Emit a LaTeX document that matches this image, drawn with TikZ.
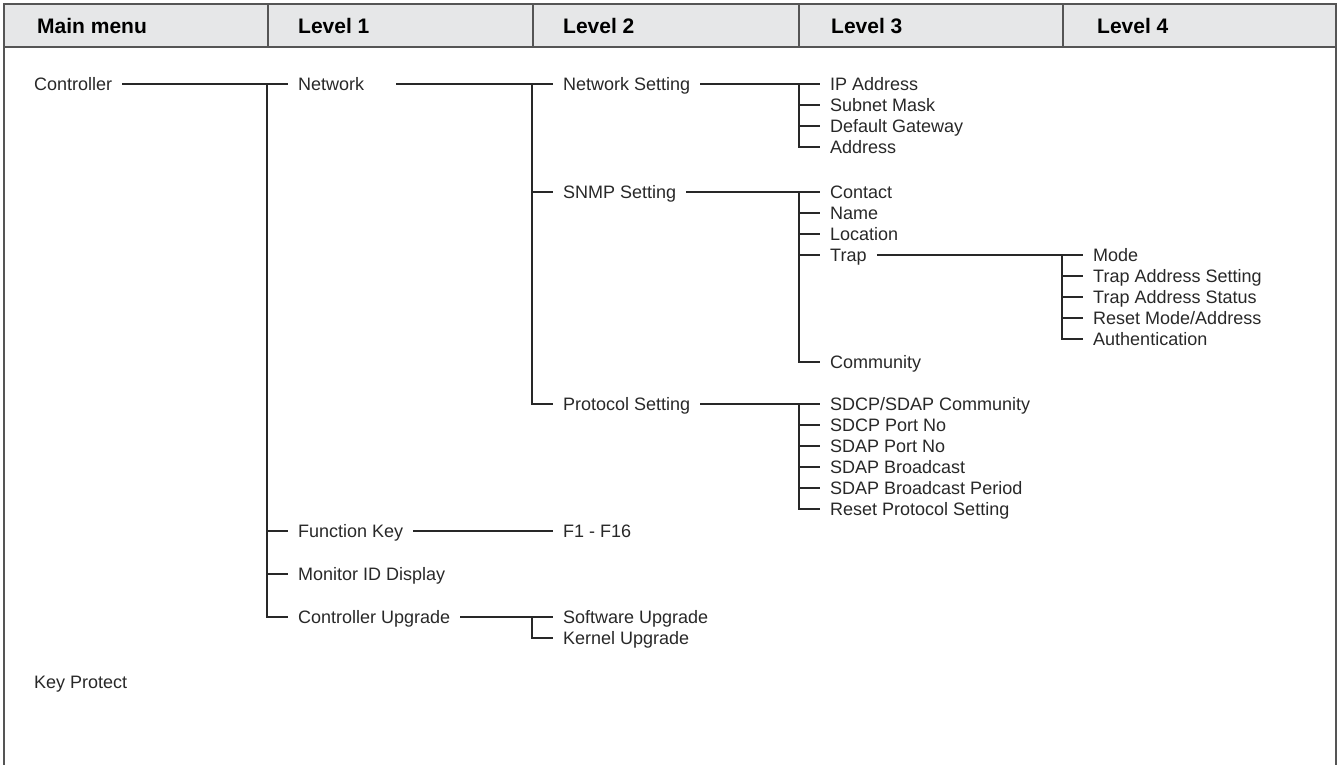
\documentclass[tikz,border=0pt]{standalone}
\usepackage{fontspec}
\setmainfont{Liberation Sans}
\definecolor{headgray}{RGB}{230,231,232}
\definecolor{framegray}{RGB}{85,85,85}
\definecolor{inkgray}{RGB}{40,40,40}

\begin{document}
\begin{tikzpicture}[x=1pt, y=-1pt,
    item/.style={anchor=west, inner xsep=10pt, inner ysep=0pt, text height=12.8pt, text depth=0pt,
      font=\fontsize{18}{21}\selectfont, text=inkgray},
    head/.style={anchor=west, inner xsep=10pt, font=\bfseries\fontsize{21}{24}\selectfont},
    link/.style={draw=inkgray, line width=1.2pt}]

    \useasboundingbox (0,0) rectangle (1339,765);

    % Header row
    \fill[headgray] (4,4) rectangle (1336,47);
    \foreach \x in {268,533,799,1063}
        \draw[framegray, line width=1.6pt] (\x,4) -- (\x,47);
    \draw[framegray, line width=1.8pt] (4,47) -- (1336,47);
    \draw[framegray, line width=2pt] (4,765) -- (4,4) -- (1336,4) -- (1336,765);
    \node[head] (h0) at (27,26) {Main menu};
    \node[head] (h1) at (288,26) {Level 1};
    \node[head] (h2) at (553,26) {Level 2};
    \node[head] (h3) at (821,26) {Level 3};
    \node[head] (h4) at (1087,26) {Level 4};

    % Main menu
    \node[item] (ctrl) at (24,84) {Controller};
    \node[item] (kp) at (24,682) {Key Protect};

    % Level 1
    \node[item] (net) at (288,84) {Network};
    \node[item] (fkey) at (288,531) {Function Key};
    \node[item] (mon) at (288,574) {Monitor ID Display};
    \node[item] (cup) at (288,617) {Controller Upgrade};

    % Level 2
    \node[item] (ns) at (553,84) {Network Setting};
    \node[item] (snmp) at (553,192) {SNMP Setting};
    \node[item] (proto) at (553,404) {Protocol Setting};
    \node[item] (fk) at (553,531) {F1 - F16};
    \node[item] (sw) at (553,617) {Software Upgrade};
    \node[item] (kern) at (553,638) {Kernel Upgrade};

    % Level 3
    \node[item] (ip) at (820,84) {IP Address};
    \node[item] (sub) at (820,105) {Subnet Mask};
    \node[item] (gw) at (820,126) {Default Gateway};
    \node[item] (addr) at (820,147) {Address};
    \node[item] (cont) at (820,192) {Contact};
    \node[item] (name) at (820,213) {Name};
    \node[item] (loc) at (820,234) {Location};
    \node[item] (trap) at (820,255) {Trap};
    \node[item] (comm) at (820,362) {Community};
    \node[item] (sdc) at (820,404) {SDCP/SDAP Community};
    \node[item] (sdcp) at (820,425) {SDCP Port No};
    \node[item] (sdap) at (820,446) {SDAP Port No};
    \node[item] (bc) at (820,467) {SDAP Broadcast};
    \node[item] (bcp) at (820,488) {SDAP Broadcast Period};
    \node[item] (rst) at (820,509) {Reset Protocol Setting};

    % Level 4
    \node[item] (mode) at (1083,255) {Mode};
    \node[item] (tas) at (1083,276) {Trap Address Setting};
    \node[item] (tst) at (1083,297) {Trap Address Status};
    \node[item] (rma) at (1083,318) {Reset Mode/Address};
    \node[item] (auth) at (1083,339) {Authentication};

    % Connectors
    \draw[link] (ctrl.east) -- (net.west);
    \draw[link] ([xshift=-21pt]net.west) |- (cup.west);
    \foreach \n in {fkey,mon}
        \draw[link] ([xshift=-21pt]\n.west) -- (\n.west);

    \draw[link] ([xshift=22pt]net.east) -- (ns.west);
    \draw[link] ([xshift=-21pt]ns.west) |- (proto.west);
    \draw[link] ([xshift=-21pt]snmp.west) -- (snmp.west);

    \draw[link] (ns.east) -- (ip.west);
    \draw[link] ([xshift=-21pt]ip.west) |- (addr.west);
    \foreach \n in {sub,gw}
        \draw[link] ([xshift=-21pt]\n.west) -- (\n.west);

    \draw[link] (snmp.east) -- (cont.west);
    \draw[link] ([xshift=-21pt]cont.west) |- (comm.west);
    \foreach \n in {name,loc,trap}
        \draw[link] ([xshift=-21pt]\n.west) -- (\n.west);

    \draw[link] (trap.east) -- (mode.west);
    \draw[link] ([xshift=-21pt]mode.west) |- (auth.west);
    \foreach \n in {tas,tst,rma}
        \draw[link] ([xshift=-21pt]\n.west) -- (\n.west);

    \draw[link] (proto.east) -- (sdc.west);
    \draw[link] ([xshift=-21pt]sdc.west) |- (rst.west);
    \foreach \n in {sdcp,sdap,bc,bcp}
        \draw[link] ([xshift=-21pt]\n.west) -- (\n.west);

    \draw[link] (fkey.east) -- (fk.west);
    \draw[link] (cup.east) -- (sw.west);
    \draw[link] ([xshift=-21pt]sw.west) |- (kern.west);

\end{tikzpicture}
\end{document}
